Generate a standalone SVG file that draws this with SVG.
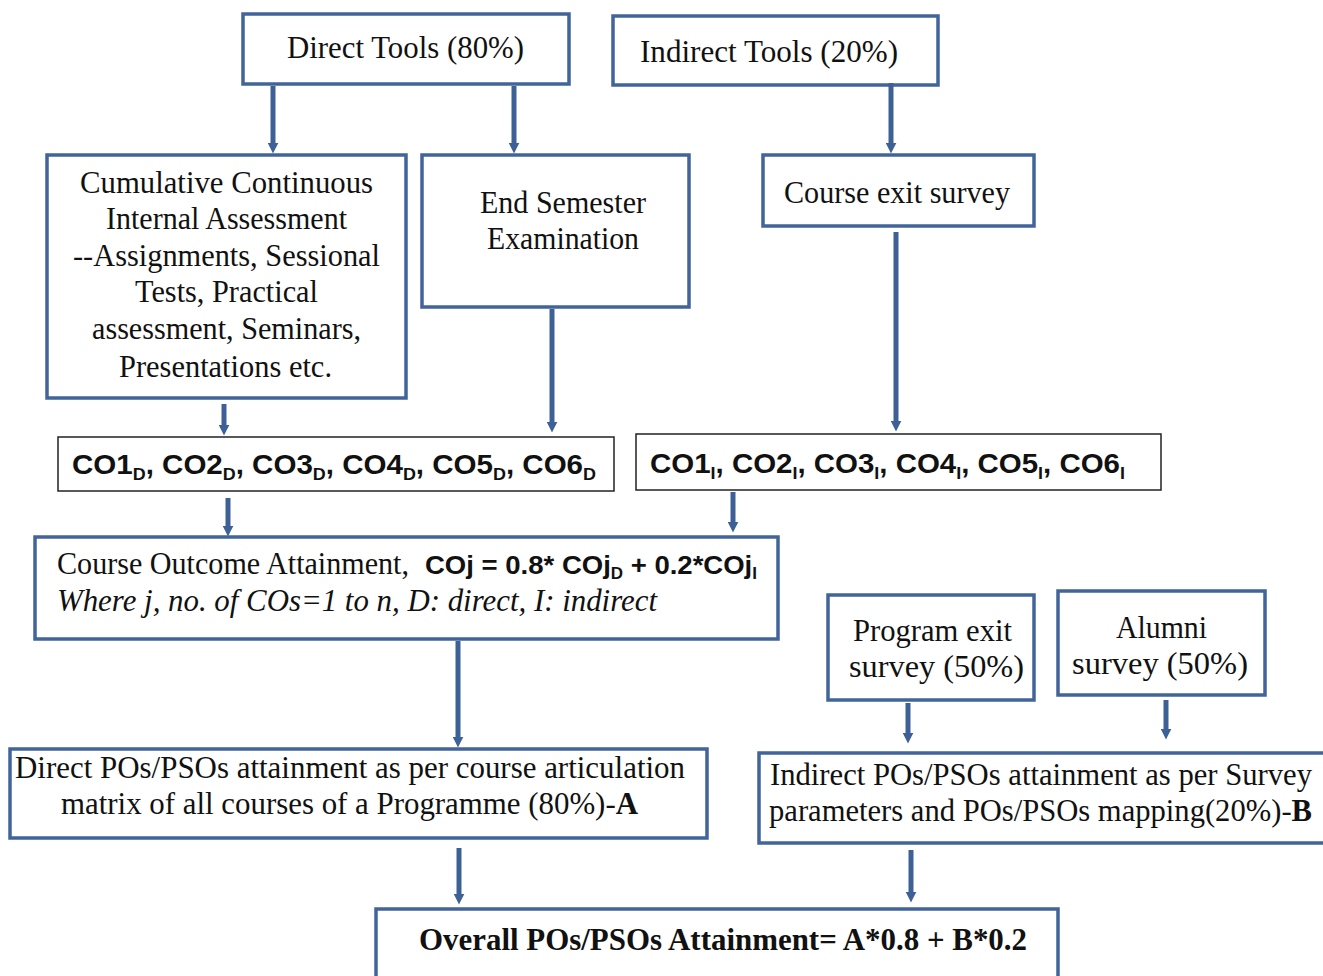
<svg xmlns="http://www.w3.org/2000/svg" width="1323" height="976" viewBox="0 0 1323 976">
<style>
.box{fill:#fff;stroke:#41649a;stroke-width:3.5}
.tbox{fill:#fff;stroke:#222;stroke-width:1.5}
.t{font-family:"Liberation Serif","Times New Roman",serif;font-size:30.5px;fill:#111}
.sb{font-family:"Liberation Sans",Arial,sans-serif;font-weight:bold;font-size:28px;fill:#111}
.sub{font-size:17px}
.conn line{stroke:#3d6096;stroke-width:5}
</style>
<defs>
<marker id="ah" viewBox="0 0 10 10" refX="4" refY="5" markerUnits="userSpaceOnUse" markerWidth="11" markerHeight="11" orient="auto">
<path d="M0,0 L10,5 L0,10 z" fill="#3d6096"/>
</marker>
</defs>
<rect width="1323" height="976" fill="#fff"/>

<g id="direct-tools">
<rect class="box" x="243" y="14" width="326" height="70"/>
<text class="t" x="287" y="58" textLength="237" lengthAdjust="spacingAndGlyphs">Direct Tools (80%)</text>
</g>
<g id="indirect-tools">
<rect class="box" x="613" y="16" width="325" height="69"/>
<text class="t" x="640" y="62" textLength="258" lengthAdjust="spacingAndGlyphs">Indirect  Tools (20%)</text>
</g>
<g id="ccia">
<rect class="box" x="47" y="155" width="359" height="243"/>
<text class="t" x="80" y="193" textLength="293" lengthAdjust="spacingAndGlyphs">Cumulative Continuous</text>
<text class="t" x="106" y="229" textLength="241" lengthAdjust="spacingAndGlyphs">Internal  Assessment</text>
<text class="t" x="73" y="266" textLength="307" lengthAdjust="spacingAndGlyphs">--Assignments,  Sessional</text>
<text class="t" x="135" y="302" textLength="183" lengthAdjust="spacingAndGlyphs">Tests, Practical</text>
<text class="t" x="92" y="339" textLength="269" lengthAdjust="spacingAndGlyphs">assessment,  Seminars,</text>
<text class="t" x="119" y="377" textLength="213" lengthAdjust="spacingAndGlyphs">Presentations  etc.</text>
</g>
<g id="end-sem">
<rect class="box" x="422" y="155" width="267" height="152"/>
<text class="t" x="480" y="213" textLength="166" lengthAdjust="spacingAndGlyphs">End Semester</text>
<text class="t" x="487" y="249" textLength="152" lengthAdjust="spacingAndGlyphs">Examination</text>
</g>
<g id="course-exit">
<rect class="box" x="763" y="155" width="271" height="71"/>
<text class="t" x="784" y="203" textLength="226" lengthAdjust="spacingAndGlyphs">Course exit survey</text>
</g>
<g id="co-direct">
<rect class="tbox" x="58" y="437" width="556" height="54"/>
<text class="sb" x="72" y="474" textLength="524" lengthAdjust="spacingAndGlyphs">CO1<tspan class="sub" dy="6">D</tspan><tspan dy="-6">, CO2</tspan><tspan class="sub" dy="6">D</tspan><tspan dy="-6">, CO3</tspan><tspan class="sub" dy="6">D</tspan><tspan dy="-6">, CO4</tspan><tspan class="sub" dy="6">D</tspan><tspan dy="-6">, CO5</tspan><tspan class="sub" dy="6">D</tspan><tspan dy="-6">, CO6</tspan><tspan class="sub" dy="6">D</tspan></text>
</g>
<g id="co-indirect">
<rect class="tbox" x="636" y="434" width="525" height="56"/>
<text class="sb" x="650" y="473" textLength="475" lengthAdjust="spacingAndGlyphs">CO1<tspan class="sub" dy="6">I</tspan><tspan dy="-6">, CO2</tspan><tspan class="sub" dy="6">I</tspan><tspan dy="-6">, CO3</tspan><tspan class="sub" dy="6">I</tspan><tspan dy="-6">, CO4</tspan><tspan class="sub" dy="6">I</tspan><tspan dy="-6">, CO5</tspan><tspan class="sub" dy="6">I</tspan><tspan dy="-6">, CO6</tspan><tspan class="sub" dy="6">I</tspan></text>
</g>
<g id="co-attainment">
<rect class="box" x="35" y="537" width="743" height="102"/>
<text class="t" x="57" y="574" textLength="352" lengthAdjust="spacingAndGlyphs">Course Outcome Attainment,</text>
<text class="sb" x="425" y="574" style="font-size:26px" textLength="332" lengthAdjust="spacingAndGlyphs">COj = 0.8* COj<tspan class="sub" dy="5" style="font-size:16px">D</tspan><tspan dy="-5">  + 0.2*COj</tspan><tspan class="sub" dy="5" style="font-size:16px">I</tspan></text>
<text class="t" x="57" y="611" font-style="italic" textLength="600" lengthAdjust="spacingAndGlyphs">Where j, no. of COs=1 to n, D: direct, I: indirect</text>
</g>
<g id="program-exit">
<rect class="box" x="828" y="595" width="206" height="105"/>
<text class="t" x="853" y="641" textLength="159" lengthAdjust="spacingAndGlyphs">Program exit</text>
<text class="t" x="849" y="677" textLength="175" lengthAdjust="spacingAndGlyphs">survey  (50%)</text>
</g>
<g id="alumni">
<rect class="box" x="1058" y="591" width="207" height="104"/>
<text class="t" x="1116" y="638" textLength="91" lengthAdjust="spacingAndGlyphs">Alumni</text>
<text class="t" x="1072" y="674" textLength="176" lengthAdjust="spacingAndGlyphs">survey  (50%)</text>
</g>
<g id="direct-pos">
<rect class="box" x="10" y="749" width="697" height="89"/>
<text class="t" x="15" y="778" textLength="670" lengthAdjust="spacingAndGlyphs">Direct POs/PSOs attainment  as per course articulation</text>
<text class="t" x="61" y="814" textLength="577" lengthAdjust="spacingAndGlyphs">matrix of all courses of a Programme (80%)-<tspan font-weight="bold">A</tspan></text>
</g>
<g id="indirect-pos">
<rect class="box" x="759" y="753" width="570" height="90"/>
<text class="t" x="770" y="785" textLength="542" lengthAdjust="spacingAndGlyphs">Indirect  POs/PSOs  attainment  as per  Survey</text>
<text class="t" x="769" y="821" textLength="543" lengthAdjust="spacingAndGlyphs">parameters  and  POs/PSOs  mapping(20%)-<tspan font-weight="bold">B</tspan></text>
</g>
<g id="overall">
<rect class="box" x="376" y="909" width="682" height="90"/>
<text class="t" x="419" y="950" font-weight="bold" textLength="608" lengthAdjust="spacingAndGlyphs">Overall  POs/PSOs Attainment=  A*0.8 + B*0.2</text>
</g>

<g id="connectors" class="conn">
<line x1="273" y1="86" x2="273" y2="147" marker-end="url(#ah)"/>
<line x1="514" y1="86" x2="514" y2="147" marker-end="url(#ah)"/>
<line x1="891" y1="83" x2="891" y2="147" marker-end="url(#ah)"/>
<line x1="224" y1="404" x2="224" y2="429" marker-end="url(#ah)"/>
<line x1="552" y1="309" x2="552" y2="426" marker-end="url(#ah)"/>
<line x1="896" y1="232" x2="896" y2="425" marker-end="url(#ah)"/>
<line x1="228" y1="498" x2="228" y2="530" marker-end="url(#ah)"/>
<line x1="733" y1="492" x2="733" y2="526" marker-end="url(#ah)"/>
<line x1="458" y1="641" x2="458" y2="741" marker-end="url(#ah)"/>
<line x1="908" y1="703" x2="908" y2="737" marker-end="url(#ah)"/>
<line x1="1166" y1="700" x2="1166" y2="733" marker-end="url(#ah)"/>
<line x1="459" y1="848" x2="459" y2="898" marker-end="url(#ah)"/>
<line x1="911" y1="850" x2="911" y2="896" marker-end="url(#ah)"/>
</g>
</svg>
